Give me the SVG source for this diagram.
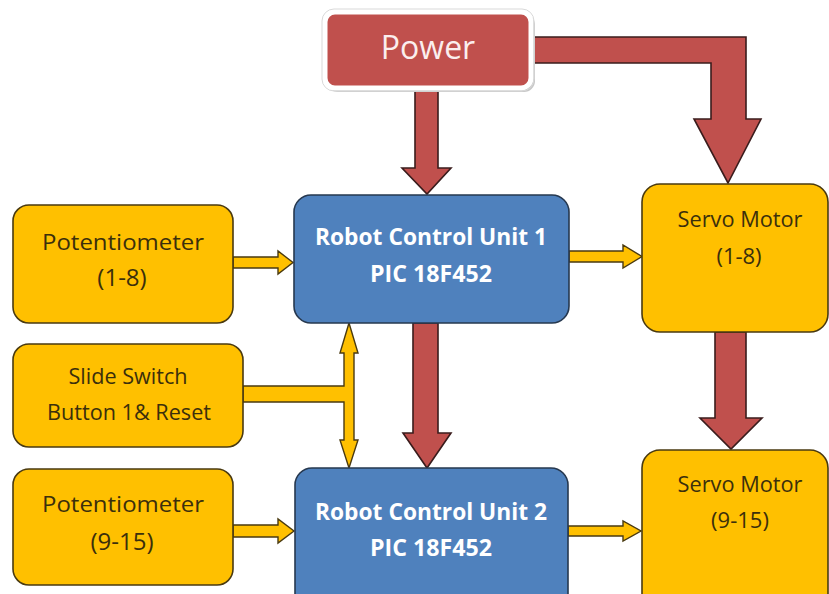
<svg xmlns="http://www.w3.org/2000/svg" width="829" height="594" viewBox="0 0 829 594">
<style>
.y{fill:#FFC000;stroke:#4a3a10;stroke-width:1.6}
.b{fill:#4F81BD;stroke:#26384f;stroke-width:1.6}
.r{fill:#C0504D;stroke:#3a1c1c;stroke-width:1.6;stroke-linejoin:miter}
.ya{fill:#FFC000;stroke:#4a3a10;stroke-width:1.4;stroke-linejoin:miter}
.ty{font-family:"Open Sans","Noto Sans",sans-serif;font-size:22px;fill:#3b2f0c;text-anchor:middle}
.tb{font-family:"Open Sans","Noto Sans",sans-serif;font-size:23px;font-weight:bold;fill:#ffffff;text-anchor:middle}
.tp{font-family:"Open Sans","Noto Sans",sans-serif;font-size:32px;fill:#fbeeee;text-anchor:middle}
</style>
<rect width="829" height="594" fill="#ffffff"/>
<g id="connectors">
<path class="r" d="M533,37 L746,37 L746,119 L761,119 L728,183 L694,119 L711,119 L711,63 L533,63 Z"/>
<path class="r" d="M415,90 L438,90 L438,168 L451,168 L427,194 L402,168 L415,168 Z"/>
<path class="r" d="M413,323 L438,323 L438,433 L451,433 L427,468 L403,433 L413,433 Z"/>
<path class="r" d="M715,332 L746,332 L746,418 L762,418 L731,449 L700,418 L715,418 Z"/>
<path class="ya" d="M233,257 L278,257 L278,251 L293,262.5 L278,274 L278,268 L233,268 Z"/>
<path class="ya" d="M569,251 L623,251 L623,245 L642,256.5 L623,268 L623,262 L569,262 Z"/>
<path class="ya" d="M233,525 L278,525 L278,519 L294,531 L278,543 L278,537 L233,537 Z"/>
<path class="ya" d="M568,526 L623,526 L623,521 L641,531 L623,541 L623,536 L568,536 Z"/>
<path class="ya" d="M243,386 L344,386 L344,353 L340,353 L349,323 L358,353 L354,353 L354,440 L358,440 L349,468 L340,440 L344,440 L344,402 L243,402 Z"/>
</g>
<g id="power">
<rect x="327" y="14" width="208" height="78" rx="11" fill="#c8c8c8"/>
<rect x="325" y="12" width="206" height="76" rx="10" fill="#C0504D" stroke="#ffffff" stroke-width="5"/>
<rect x="322" y="9" width="212" height="82" rx="12" fill="none" stroke="#d9d9d9" stroke-width="1"/>
<text class="tp" x="428" y="59">Power</text>
</g>
<g id="rcu1">
<rect class="b" x="294" y="195" width="275" height="128" rx="17"/>
<text class="tb" x="431" y="245" textLength="232" lengthAdjust="spacingAndGlyphs">Robot Control Unit 1</text>
<text class="tb" x="431" y="282" textLength="122" lengthAdjust="spacingAndGlyphs">PIC 18F452</text>
</g>
<g id="rcu2">
<rect class="b" x="295" y="468" width="273" height="150" rx="17"/>
<text class="tb" x="431" y="520" textLength="232" lengthAdjust="spacingAndGlyphs">Robot Control Unit 2</text>
<text class="tb" x="431" y="556" textLength="122" lengthAdjust="spacingAndGlyphs">PIC 18F452</text>
</g>
<g id="pot1">
<rect class="y" x="13" y="205" width="220" height="118" rx="16"/>
<text class="ty" x="123" y="250" textLength="162" lengthAdjust="spacingAndGlyphs">Potentiometer</text>
<text class="ty" x="122" y="286" style="font-size:24px">(1-8)</text>
</g>
<g id="switch">
<rect class="y" x="13" y="344" width="230" height="103" rx="16"/>
<text class="ty" x="128" y="384" style="font-size:21px" textLength="119" lengthAdjust="spacingAndGlyphs">Slide Switch</text>
<text class="ty" x="129" y="420" style="font-size:21px" textLength="164" lengthAdjust="spacingAndGlyphs">Button 1&amp; Reset</text>
</g>
<g id="pot2">
<rect class="y" x="13" y="469" width="220" height="116" rx="16"/>
<text class="ty" x="123" y="512" textLength="162" lengthAdjust="spacingAndGlyphs">Potentiometer</text>
<text class="ty" x="122" y="550" style="font-size:24px">(9-15)</text>
</g>
<g id="servo1">
<rect class="y" x="642" y="184" width="186" height="148" rx="18"/>
<text class="ty" x="740" y="227" textLength="125" lengthAdjust="spacingAndGlyphs">Servo Motor</text>
<text class="ty" x="739" y="264">(1-8)</text>
</g>
<g id="servo2">
<rect class="y" x="642" y="450" width="186" height="170" rx="18"/>
<text class="ty" x="740" y="492" textLength="125" lengthAdjust="spacingAndGlyphs">Servo Motor</text>
<text class="ty" x="740" y="528">(9-15)</text>
</g>
</svg>
